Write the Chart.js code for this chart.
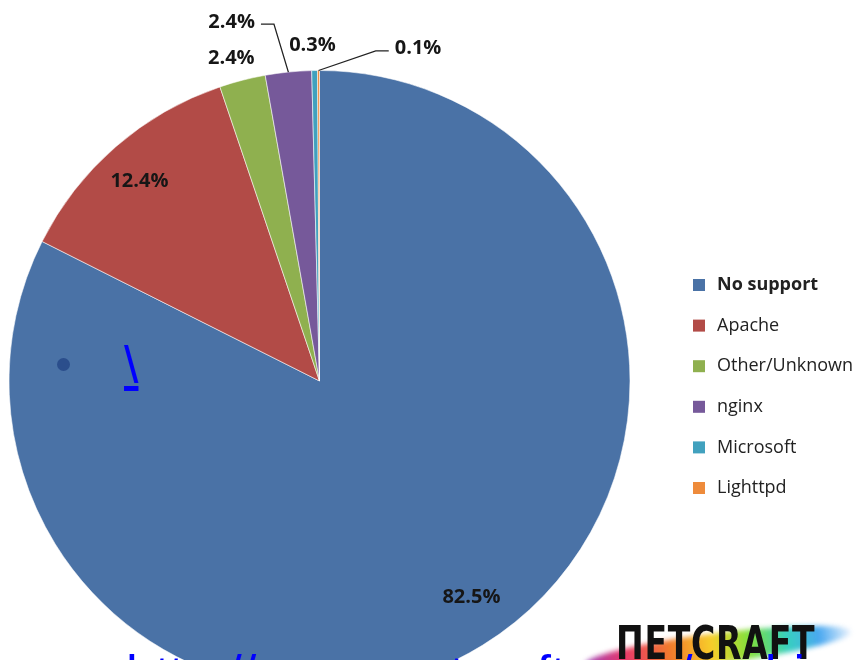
<!DOCTYPE html>
<html>
<head>
<meta charset="utf-8">
<title>Web server SPDY support</title>
<script src="https://cdn.jsdelivr.net/npm/chart.js@4.4.0/dist/chart.umd.min.js"></script>
<style>
html, body { margin:0; padding:0; background:#fff; overflow:hidden; width:865px; height:660px; }
#wrap { position:absolute; left:0; top:0; width:865px; height:700px; }
.bullet { position:absolute; left:57px; top:358px; width:13px; height:13px; border-radius:50%; background:#2b4e8c; }
.slash { position:absolute; left:124px; top:339px; font:52px/1 "Liberation Sans", Arial, sans-serif; color:#0000ff; text-decoration:underline; }
.logo { position:absolute; left:570px; top:605px; width:295px; height:55px; overflow:hidden; }
.logo .stroke { position:absolute; left:14px; top:28px; width:268px; height:30px; border-radius:50%;
  background:linear-gradient(90deg, #9b3fb8 0%, #e8386a 15%, #f27a2c 32%, #f7cf2a 48%, #7fe03c 62%, #37cfc0 76%, #4aa8f0 88%, rgba(170,200,245,0.2) 100%);
  transform:rotate(-7deg); filter:blur(2.5px); }
.logo .word { position:absolute; left:46px; top:15px; font:bold 46px/1 "DejaVu Sans", sans-serif; color:#111;
  transform:scaleX(0.72); transform-origin:left top; letter-spacing:1px; }
.link { position:absolute; left:126px; top:648px; white-space:nowrap; font:52px/1 "Liberation Sans", Arial, sans-serif; color:#0000ff; text-decoration:underline; }
</style>
</head>
<body>
<div id="wrap"><canvas id="pieChart" width="865" height="700"></canvas></div>
<div class="bullet"></div>
<span class="slash">\</span>
<div class="logo"><div class="stroke"></div><div class="word">ПETCRAFT</div></div>
<div class="link">http://news.netcraft.com/archives/</div>
<script>
// data
const serverNames = ['No support', 'Apache', 'Other/Unknown', 'nginx', 'Microsoft', 'Lighttpd'];
const sharePct = [82.5, 12.4, 2.4, 2.4, 0.3, 0.1];
const sliceColors = ['#4A72A6', '#B24B47', '#8FB04F', '#76599A', '#41A1BE', '#EE8B3B'];

// label placement: angle shift from slice middle (deg), distance in radii, leader side
const labelPlace = [
    {da: -3.5, f: 0.85},
    {da: -1.1, f: 0.865},
    {da: -0.9, f: 1.077},
    {da: -8.0, f: 1.19, leader: 'right'},
    {da: -0.3, f: 1.08},
    {da: 16.7, f: 1.116, leader: 'left'}
];

const pctLabels = {
    id: 'pctLabels',
    afterDatasetsDraw(chart) {
        const ctx = chart.ctx;
        const arcs = chart.getDatasetMeta(0).data;
        ctx.save();
        ctx.font = 'bold 20px "Open Sans", sans-serif';
        ctx.fillStyle = '#161616';
        ctx.textAlign = 'center';
        ctx.textBaseline = 'middle';
        arcs.forEach((arc, i) => {
            const p = arc.getProps(['x', 'y', 'startAngle', 'endAngle', 'outerRadius'], true);
            const mid = (p.startAngle + p.endAngle) / 2;
            const place = labelPlace[i];
            const a = mid + place.da * Math.PI / 180;
            const lx = p.x + Math.cos(a) * p.outerRadius * place.f;
            const ly = p.y + Math.sin(a) * p.outerRadius * place.f;
            const txt = sharePct[i].toFixed(1) + '%';
            ctx.fillText(txt, lx, ly);
            if (place.leader) {
                const w = ctx.measureText(txt).width / 2;
                const ex = p.x + Math.cos(mid) * p.outerRadius;
                const ey = p.y + Math.sin(mid) * p.outerRadius;
                const dir = place.leader === 'right' ? 1 : -1;
                const x0 = lx + dir * (w + 6);
                const x1 = lx + dir * (w + 19);
                ctx.strokeStyle = '#222';
                ctx.lineWidth = 1.3;
                ctx.beginPath();
                ctx.moveTo(x0, ly + 2);
                ctx.lineTo(x1, ly + 2);
                ctx.lineTo(ex, ey);
                ctx.stroke();
            }
        });
        ctx.restore();
    }
};

// legend on the right, first entry bold like the original
const sideLegend = {
    id: 'sideLegend',
    afterDraw(chart) {
        const ctx = chart.ctx;
        ctx.save();
        ctx.textBaseline = 'middle';
        ctx.textAlign = 'left';
        serverNames.forEach((name, i) => {
            const y = 285 + i * 40.6;
            ctx.fillStyle = sliceColors[i];
            ctx.fillRect(693, y - 6, 12, 12);
            ctx.fillStyle = '#222';
            ctx.font = (i === 0 ? 'bold ' : '') + '18px "Open Sans", sans-serif';
            ctx.fillText(name, 717, y);
        });
        ctx.restore();
    }
};

const pieCtx = document.getElementById('pieChart').getContext('2d');
new Chart(pieCtx, {
    type: 'pie',
    data: {
        labels: serverNames,
        datasets: [{
            data: sharePct,
            backgroundColor: sliceColors,
            borderColor: 'rgba(255,255,255,0.55)',
            borderWidth: 1
        }]
    },
    options: {
        responsive: false,
        animation: false,
        devicePixelRatio: 1,
        layout: {padding: {left: 8, right: 234, top: 70, bottom: 8}},
        plugins: {legend: {display: false}, tooltip: {enabled: false}}
    },
    plugins: [pctLabels, sideLegend]
});
</script>
</body>
</html>
